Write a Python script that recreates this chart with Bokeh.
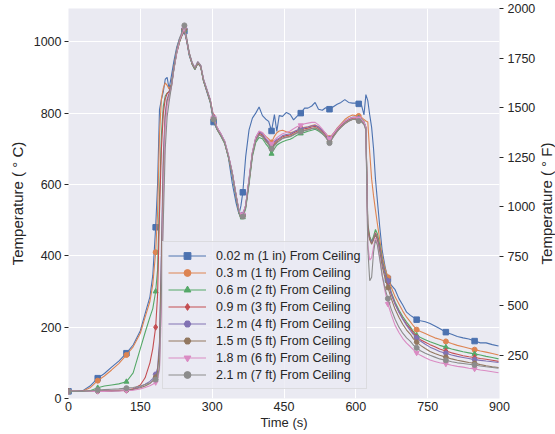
import math
from bokeh.plotting import figure
from bokeh.models import Range1d, LinearAxis, Legend, LegendItem, FixedTicker, Label
from bokeh.embed import file_html
from bokeh.resources import INLINE

# ---------------- data ----------------
TIME = [0, 15, 30, 45, 61, 75, 90, 105, 121, 135,
        150, 160, 170, 176, 182, 186, 190, 194, 198, 202,
        206, 210, 215, 220, 226, 232, 237, 242, 247, 252,
        258, 264, 270, 276, 282, 290, 296, 303, 310, 318,
        326, 334, 342, 350, 356, 360, 364, 370, 377, 384,
        391, 398, 405, 412, 418, 424, 430, 435, 440, 447,
        455, 463, 470, 477, 485, 493, 500, 508, 515, 522,
        530, 537, 545, 553, 561, 569, 577, 585, 593, 600,
        606, 612, 617, 621, 625, 629, 633, 637, 641, 645,
        650, 655, 661, 667, 674, 682, 690, 698, 706, 714,
        720, 727, 735, 745, 755, 765, 775, 788, 800, 812,
        824, 836, 848, 860, 872, 885, 898]

MARK_TIMES = [0, 61, 121, 182, 242, 303, 364, 424, 485, 545, 606, 667, 727, 788, 848]

T_002 = [20, 20, 22, 35, 57, 70, 88, 105, 127, 150,
         190, 238, 285, 345, 480, 600, 810, 838, 860, 895,
         900, 868, 905, 945, 985, 1010, 1022, 1030, 1000, 962,
         938, 922, 940, 930, 890, 855, 830, 775, 755, 738,
         718, 675, 603, 548, 517, 540, 578, 678, 753, 786,
         800, 817, 793, 783, 777, 750, 796, 749, 793, 791,
         802, 796, 781, 791, 800, 814, 814, 820, 830, 811,
         808, 815, 811, 818, 825, 830, 838, 830, 828, 828,
         826, 822, 795, 852, 835, 795, 760, 700, 615, 555,
         480, 415, 370, 335, 318, 305, 280, 262, 242, 233,
         228, 221, 218, 215, 210, 203, 196, 186, 180, 174,
         170, 167, 161, 156, 156, 151, 147]

T_03 = [20, 20, 21, 30, 50, 63, 80, 98, 122, 145,
        183, 228, 272, 320, 410, 520, 740, 840, 870, 885,
        878, 868, 880, 928, 975, 1005, 1020, 1035, 1005, 968,
        940, 925, 942, 932, 893, 860, 835, 785, 758, 740,
        720, 680, 632, 568, 525, 510, 514, 540, 612, 688,
        730, 748, 745, 735, 728, 718, 735, 745, 750, 752,
        748, 745, 748, 752, 757, 760, 762, 765, 767, 762,
        753, 743, 730, 743, 758, 770, 782, 790, 795, 793,
        792, 788, 782, 778, 775, 690, 615, 568, 528, 490,
        445, 400, 365, 340, 312, 285, 265, 245, 228, 215,
        204, 193, 188, 182, 176, 170, 166, 160, 154, 149,
        145, 141, 137, 133, 130, 126, 122]

T_06 = [20, 20, 20, 22, 30, 35, 38, 41, 47, 72,
        140, 185, 228, 252, 300, 360, 560, 740, 820, 848,
        856, 860, 880, 925, 970, 1000, 1018, 1033, 1002, 965,
        938, 922, 940, 930, 890, 858, 832, 782, 755, 736,
        715, 676, 628, 565, 520, 503, 508, 532, 600, 678,
        718, 732, 728, 714, 704, 686, 700, 710, 715, 720,
        724, 727, 732, 738, 743, 746, 749, 752, 755, 750,
        742, 734, 720, 735, 752, 765, 776, 784, 788, 788,
        786, 783, 776, 760, 490, 455, 440, 455, 474, 462,
        430, 390, 355, 330, 298, 270, 248, 230, 214, 200,
        188, 177, 171, 165, 159, 154, 149, 144, 139, 135,
        131, 128, 125, 122, 118, 115, 111]

T_09 = [20, 20, 20, 20, 21, 21, 22, 23, 24, 27,
        38, 58, 100, 140, 200, 290, 520, 700, 800, 840,
        855, 860, 880, 928, 975, 1005, 1020, 1036, 1005, 968,
        940, 925, 942, 932, 893, 860, 838, 790, 760, 742,
        720, 680, 632, 568, 525, 510, 514, 540, 612, 688,
        728, 744, 739, 725, 716, 706, 716, 723, 727, 734,
        737, 739, 744, 749, 753, 756, 758, 761, 763, 758,
        749, 739, 725, 739, 753, 764, 774, 781, 786, 786,
        783, 781, 774, 760, 480, 450, 435, 448, 465, 452,
        422, 383, 350, 325, 292, 265, 243, 224, 208, 195,
        184, 172, 165, 158, 151, 145, 139, 133, 128, 124,
        120, 117, 115, 112, 110, 107, 104]

T_12 = [20, 20, 20, 20, 21, 21, 21, 22, 24, 26,
        33, 40, 48, 56, 68, 85, 160, 420, 680, 800,
        840, 855, 878, 925, 970, 1003, 1020, 1036, 1005, 968,
        942, 927, 944, 934, 895, 862, 837, 787, 760, 742,
        722, 682, 634, 570, 527, 512, 516, 542, 615, 690,
        732, 748, 742, 728, 719, 710, 720, 726, 730, 737,
        740, 742, 747, 752, 756, 759, 761, 764, 766, 761,
        752, 742, 728, 742, 756, 767, 777, 784, 788, 788,
        785, 782, 775, 760, 470, 448, 438, 448, 462, 448,
        418, 380, 350, 330, 295, 265, 242, 222, 205, 190,
        180, 170, 161, 152, 144, 138, 132, 127, 122, 118,
        115, 112, 109, 107, 105, 103, 101]

T_15 = [20, 20, 20, 20, 21, 21, 21, 22, 23, 25,
        30, 35, 42, 50, 60, 75, 140, 380, 650, 790,
        835, 850, 875, 922, 968, 1000, 1018, 1034, 1003, 966,
        938, 923, 940, 930, 890, 857, 832, 782, 755, 737,
        717, 677, 629, 565, 522, 507, 511, 537, 608, 684,
        724, 740, 735, 722, 712, 702, 712, 719, 723, 730,
        733, 735, 740, 745, 749, 752, 754, 757, 759, 754,
        745, 735, 720, 735, 749, 760, 770, 777, 782, 782,
        779, 777, 770, 755, 470, 445, 432, 445, 460, 443,
        410, 370, 338, 311, 280, 250, 228, 208, 192, 180,
        168, 158, 149, 140, 132, 126, 121, 116, 111, 107,
        104, 101, 99, 95, 92, 89, 87]

T_18 = [20, 20, 20, 20, 20, 20, 21, 21, 22, 23,
        27, 31, 36, 40, 45, 55, 80, 250, 560, 760,
        820, 845, 872, 922, 970, 1005, 1022, 1038, 1006, 968,
        942, 927, 944, 934, 895, 862, 837, 787, 760, 742,
        722, 682, 634, 570, 527, 512, 516, 542, 615, 690,
        732, 750, 746, 733, 724, 714, 724, 731, 736, 742,
        746, 750, 756, 762, 766, 770, 772, 774, 774, 767,
        755, 743, 728, 742, 756, 767, 777, 784, 788, 788,
        785, 782, 775, 760, 430, 388, 395, 425, 450, 435,
        395, 345, 300, 265, 235, 205, 185, 168, 155, 145,
        137, 128, 121, 114, 108, 104, 100, 97, 93, 90,
        88, 85, 83, 80, 78, 75, 72]

T_21 = [20, 20, 20, 21, 24, 25, 26, 27, 29, 31,
        35, 39, 44, 48, 53, 60, 90, 300, 500, 700,
        790, 830, 875, 925, 980, 1010, 1028, 1046, 1010, 970,
        942, 925, 944, 934, 893, 860, 835, 783, 756, 738,
        718, 678, 630, 566, 522, 506, 510, 535, 606, 683,
        723, 739, 734, 720, 711, 700, 708, 716, 722, 729,
        732, 734, 739, 744, 748, 751, 753, 756, 758, 753,
        743, 732, 716, 733, 749, 761, 771, 778, 783, 783,
        778, 775, 768, 752, 420, 330, 340, 410, 444, 430,
        390, 345, 308, 280, 250, 222, 200, 183, 170, 160,
        150, 142, 134, 127, 121, 116, 111, 107, 103, 100,
        98, 96, 94, 91, 89, 87, 85]

LABELS = ["0.02 m (1 in) From Ceiling", "0.3 m (1 ft) From Ceiling",
          "0.6 m (2 ft) From Ceiling", "0.9 m (3 ft) From Ceiling",
          "1.2 m (4 ft) From Ceiling", "1.5 m (5 ft) From Ceiling",
          "1.8 m (6 ft) From Ceiling", "2.1 m (7 ft) From Ceiling"]
SERIES = [T_002, T_03, T_06, T_09, T_12, T_15, T_18, T_21]

X_TICKS = [0, 150, 300, 450, 600, 750, 900]
C_TICKS = [0, 200, 400, 600, 800, 1000]
F_TICKS = [250, 500, 750, 1000, 1250, 1500, 1750, 2000]
F_MIN, F_MAX = 32, 2000

# ---------------- style ----------------
COLORS = ["#4C72B0", "#DD8452", "#55A868", "#C44E52",
          "#8172B3", "#937860", "#DA8BC3", "#8C8C8C"]
MARKERS = ["square", "circle", "triangle", "diamond",
           "hex", "hex", "inverted_triangle", "circle"]
MSIZE = [5.5, 5, 5, 6, 5, 5, 5, 5]
FONT = "Liberation Sans"
TXT = "#262626"

W, H = 555, 434
BL, BR, BT, BB = 68, 54, 8, 36

p = figure(width=W, height=H, output_backend="svg", toolbar_location=None,
           x_range=Range1d(0, 900),
           y_range=Range1d(0, (F_MAX - 32) / 1.8),
           min_border_left=BL, min_border_right=BR, min_border_top=BT,
           min_border_bottom=BB,
           background_fill_color="#EAEAF2", border_fill_color="white")
p.outline_line_color = None

left_axis = p.yaxis[0]
p.extra_y_ranges = {"F": Range1d(F_MIN, F_MAX)}
right_axis = LinearAxis(y_range_name="F")
p.add_layout(right_axis, "right")

left_axis.axis_label = "Temperature ( \u00b0 C)"
p.xaxis.axis_label = "Time (s)"

for ax in [left_axis, right_axis]:
    ax.axis_line_color = None
    ax.major_tick_out = 4
    ax.major_tick_in = 0
    ax.major_tick_line_color = TXT
    ax.minor_tick_line_color = None
    ax.major_label_text_font = FONT
    ax.major_label_text_font_size = "12.5px"
    ax.major_label_text_color = TXT
    ax.axis_label_text_font = FONT
    ax.axis_label_text_font_size = "15px"
    ax.axis_label_text_font_style = "normal"
    ax.axis_label_text_color = TXT
    ax.axis_label_text_line_height = 1.0
    ax.major_label_standoff = 3
left_axis.axis_label_standoff = 5
right_axis.major_label_standoff = 4
left_axis.ticker = FixedTicker(ticks=C_TICKS)
right_axis.ticker = FixedTicker(ticks=F_TICKS)

# right-hand axis title, reading bottom-to-top like the left one
frame_h = H - BT - BB
p.add_layout(Label(x=8, y=frame_h / 2, x_units="screen", y_units="screen",
                   text="Temperature ( \u00b0 F)", angle=math.pi / 2,
                   text_align="center", text_baseline="middle",
                   text_font=FONT, text_font_size="15px", text_color=TXT),
             "right")

xa = p.xaxis[0]
xa.ticker = FixedTicker(ticks=X_TICKS)
xa.axis_line_color = None
xa.major_tick_out = 0
xa.major_tick_in = 0
xa.major_tick_line_color = None
xa.minor_tick_line_color = None
xa.major_label_text_font = FONT
xa.major_label_text_font_size = "12.5px"
xa.major_label_text_color = TXT
xa.major_label_standoff = 3
xa.axis_label_text_font = FONT
xa.axis_label_text_font_size = "13px"
xa.axis_label_text_font_style = "normal"
xa.axis_label_text_color = TXT
xa.axis_label_standoff = 1

p.xgrid.ticker = FixedTicker(ticks=X_TICKS)
p.ygrid.ticker = FixedTicker(ticks=C_TICKS)
p.grid.grid_line_color = "white"
p.grid.grid_line_width = 1

mark_idx = [i for i, t in enumerate(TIME) if t in MARK_TIMES]
items = []
for lab, ys, col, mk, ms in zip(LABELS, SERIES, COLORS, MARKERS, MSIZE):
    r_line = p.line(TIME, ys, line_color=col, line_width=1.1)
    r_mark = p.scatter([TIME[i] for i in mark_idx], [ys[i] for i in mark_idx],
                       marker=mk, size=ms, fill_color=col, line_color=col)
    items.append(LegendItem(label=lab, renderers=[r_line, r_mark]))

legend = Legend(items=items, location=(94, 9))
legend.label_text_font = FONT
legend.label_text_font_size = "12.5px"
legend.label_text_color = TXT
legend.glyph_width = 38
legend.glyph_height = 17
legend.label_height = 17
legend.spacing = 0
legend.padding = 5
legend.margin = 0
legend.label_standoff = 10
legend.border_line_color = "#CCCCCC"
legend.border_line_width = 1
legend.background_fill_color = "#EAEAF2"
legend.background_fill_alpha = 0.8
p.add_layout(legend)

open("out.html", "w").write(file_html(p, INLINE))
